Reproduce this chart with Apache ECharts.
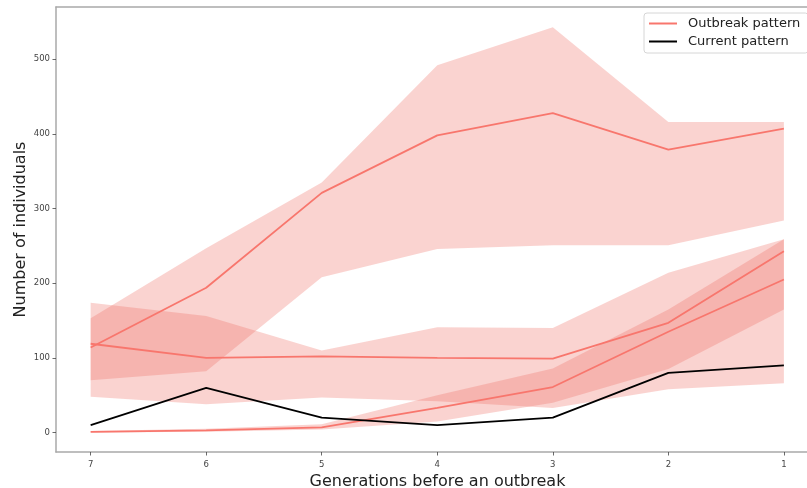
<!DOCTYPE html>
<html>
<head>
<meta charset="utf-8">
<script src="https://cdn.jsdelivr.net/npm/echarts@6/dist/echarts.min.js"></script>
<style>
  html, body { margin: 0; padding: 0; background: #fff; }
  #chart { width: 807px; height: 488px; }
</style>
</head>
<body>
<div id="chart"></div>
<script>
// Generations before an outbreak (x positions, counted down to 1)
const generations = [7, 6, 5, 4, 3, 2, 1];
const yTicks = [0, 100, 200, 300, 400, 500];

// Outbreak pattern 1: mean and its interval
const outbreakA = [114, 194, 321, 398, 428, 379, 407];
const outbreakALow = [70, 82, 208, 246, 251, 251, 284];
const outbreakAHigh = [153, 247, 335, 492, 543, 416, 416];

// Outbreak pattern 2
const outbreakB = [119, 100, 102, 100, 99, 147, 243];
const outbreakBLow = [48, 38, 47, 42, 33, 58, 66];
const outbreakBHigh = [174, 156, 110, 141, 140, 214, 259];

// Outbreak pattern 3
const outbreakC = [1, 3, 7, 33, 61, 135, 205];
const outbreakCLow = [0, 1, 4, 15, 40, 85, 165];
const outbreakCHigh = [2, 5, 11, 50, 86, 165, 259];

// Current pattern
const current = [10, 60, 20, 10, 20, 80, 90];

const RED = '#f8766d';
const BAND = 'rgba(240,110,100,0.3)';
const FONT = 'DejaVu Sans';

function pairs(values) {
  return generations.map((g, i) => [g, values[i]]);
}

function band(low, high) {
  return {
    type: 'custom',
    silent: true,
    clip: true,
    z: 1,
    data: generations.map((g, i) => [g, low[i], high[i]]),
    encode: { x: 0, y: [1, 2] },
    renderItem: function (params, api) {
      if (params.dataIndex !== 0) return null;
      const pts = [];
      for (let i = 0; i < generations.length; i++) pts.push(api.coord([generations[i], high[i]]));
      for (let i = generations.length - 1; i >= 0; i--) pts.push(api.coord([generations[i], low[i]]));
      return { type: 'polygon', shape: { points: pts }, style: { fill: BAND } };
    }
  };
}

function line(name, values, color) {
  return {
    name: name,
    type: 'line',
    data: pairs(values),
    symbol: 'none',
    z: 3,
    lineStyle: { color: color, width: 1.8 },
    itemStyle: { color: color },
    emphasis: { disabled: true }
  };
}

const chart = echarts.init(document.getElementById('chart'), null, { renderer: 'canvas' });

const axisGray = '#a9a9a9';

chart.setOption({
  animation: false,
  backgroundColor: '#fff',
  grid: { left: 56, right: 0, top: 7, bottom: 36, outerBoundsMode: 'none', containLabel: false },
  legend: {
    data: ['Outbreak pattern', 'Current pattern'],
    orient: 'vertical',
    left: 644,
    top: 13,
    icon: 'rect',
    itemWidth: 28,
    itemHeight: 2,
    itemGap: 5,
    padding: [4, 8, 5, 5],
    borderColor: '#d6d6d6',
    borderWidth: 1,
    borderRadius: 3,
    backgroundColor: 'rgba(255,255,255,0.8)',
    textStyle: { fontFamily: FONT, fontSize: 13, color: '#222', padding: [0, 0, 0, 6] }
  },
  xAxis: [
    {
      type: 'value',
      inverse: true,
      min: 0.8,
      max: 7.3,
      position: 'bottom',
      name: 'Generations before an outbreak',
      nameLocation: 'middle',
      nameGap: 21,
      nameTextStyle: { fontFamily: FONT, fontSize: 16, color: '#222', padding: [0, 0, 0, 12] },
      splitLine: { show: false },
      axisLine: { show: true, onZero: false, lineStyle: { color: axisGray, width: 1.5 } },
      axisTick: { show: true, length: 3.5, customValues: generations, lineStyle: { color: '#444', width: 0.8 } },
      axisLabel: { customValues: generations, margin: 8, fontFamily: FONT, fontSize: 8.5, color: '#444' }
    },
    {
      type: 'value',
      min: 0.8,
      max: 7.3,
      position: 'top',
      splitLine: { show: false },
      axisLine: { show: true, onZero: false, lineStyle: { color: axisGray, width: 1.5 } },
      axisTick: { show: false },
      axisLabel: { show: false }
    }
  ],
  yAxis: {
    type: 'value',
    min: -26,
    max: 570,
    name: 'Number of individuals',
    nameLocation: 'middle',
    nameGap: 27,
    nameMoveOverlap: false,
    nameTextStyle: { fontFamily: FONT, fontSize: 16, color: '#222' },
    splitLine: { show: false },
    axisLine: { show: true, onZero: false, lineStyle: { color: axisGray, width: 1.5 } },
    axisTick: { show: true, length: 3.5, customValues: yTicks, lineStyle: { color: '#444', width: 0.8 } },
    axisLabel: { customValues: yTicks, margin: 6, fontFamily: FONT, fontSize: 8.5, color: '#444' }
  },
  series: [
    band(outbreakALow, outbreakAHigh),
    band(outbreakBLow, outbreakBHigh),
    band(outbreakCLow, outbreakCHigh),
    line('Outbreak pattern', outbreakA, RED),
    line('Outbreak pattern', outbreakB, RED),
    line('Outbreak pattern', outbreakC, RED),
    line('Current pattern', current, '#000')
  ]
});
</script>
</body>
</html>
